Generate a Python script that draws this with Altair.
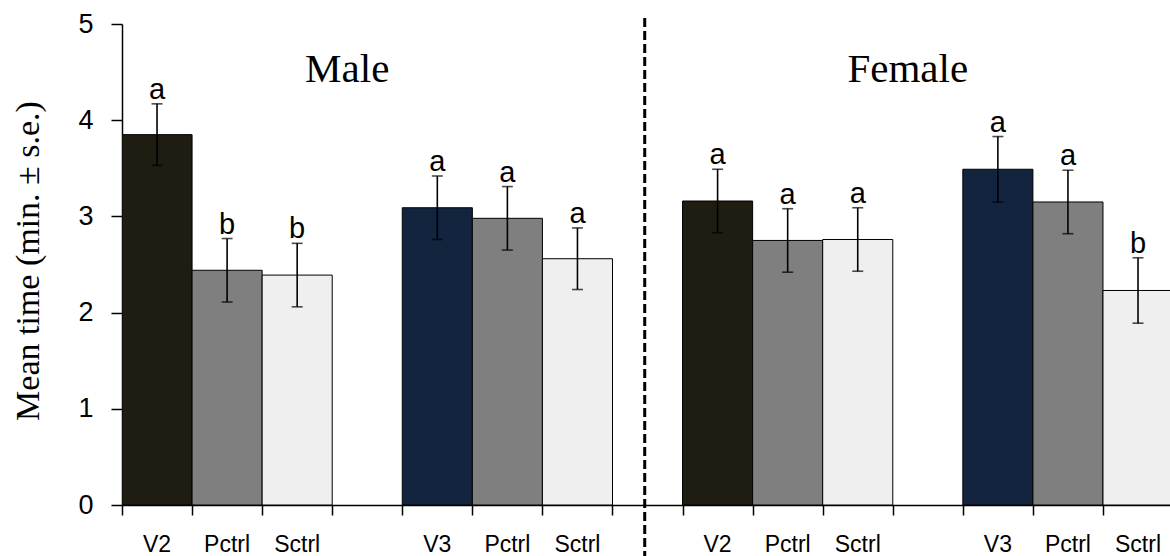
import altair as alt
import pandas as pd

# ---- data ----
sexes = ["Male"] * 6 + ["Female"] * 6
treatments = ["V2", "Pctrl", "Sctrl", "V3", "Pctrl", "Sctrl",
              "V2", "Pctrl", "Sctrl", "V3", "Pctrl", "Sctrl"]
color_keys = ["V2", "Pctrl", "Sctrl", "V3", "Pctrl", "Sctrl",
              "V2", "Pctrl", "Sctrl", "V3", "Pctrl", "Sctrl"]
means = [3.85, 2.44, 2.39, 3.09, 2.98, 2.56, 3.16, 2.75, 2.76, 3.49, 3.15, 2.23]
ses = [0.32, 0.33, 0.33, 0.33, 0.33, 0.32, 0.33, 0.33, 0.33, 0.34, 0.33, 0.34]
letters = ["a", "b", "b", "a", "a", "a", "a", "a", "a", "a", "a", "b"]
panel_titles = ["Male", "Female"]
y_ticks = [0, 1, 2, 3, 4, 5]

# slot layout: 3 bars, one empty slot, 3 bars, one empty slot, per sex
rows = []
for i in range(len(means)):
    sex_i = 0 if sexes[i] == "Male" else 1
    within = i % 6
    pair = within // 3
    k = within % 3
    slot = sex_i * 8 + pair * 4 + k
    rows.append(dict(sex=sexes[i], treat=treatments[i], key=color_keys[i],
                     mean=means[i], se=ses[i], lo=means[i] - ses[i],
                     hi=means[i] + ses[i], letter=letters[i],
                     x0=slot, x1=slot + 1, xc=slot + 0.5))
df = pd.DataFrame(rows)
titles_df = pd.DataFrame({"title": panel_titles, "xc": [3.5, 11.5], "y": [4.4, 4.4]})

W = 1048
H = 481
xmax = W / 70.07
xs = alt.Scale(domain=[0, xmax], nice=False, zero=False)
ys = alt.Scale(domain=[0, 5], nice=False)

color = alt.Color("key:N", legend=None,
                  scale=alt.Scale(domain=["V2", "Pctrl", "Sctrl", "V3"],
                                  range=["#1f1c12", "#7f7f7f", "#efefef", "#13243f"]))

base = alt.Chart(df)

bars = base.mark_bar(stroke="black", strokeWidth=1, clip=True).encode(
    x=alt.X("x0:Q", scale=xs,
            axis=alt.Axis(values=list(range(15)), labels=False, tickSize=10,
                          title=None, grid=False, domainWidth=1.5, tickWidth=1.5,
                          domainColor="black", tickColor="black")),
    x2="x1:Q",
    y=alt.Y("mean:Q", scale=ys,
            axis=alt.Axis(values=y_ticks, format="d", tickSize=11, labelPadding=18, grid=False,
                          title="Mean time (min. ± s.e.)", titleFont="Liberation Serif",
                          titleFontSize=34, titleFontWeight="normal", titleColor="black",
                          titleAngle=-90, titleX=-94, titleY=H / 2 - 4,
                          titleAlign="center", titleBaseline="middle",
                          labelFont="Liberation Sans", labelFontSize=27,
                          labelColor="black", domainWidth=1.5, tickWidth=1.5,
                          domainColor="black", tickColor="black")),
    y2=alt.Y2(datum=0),
    color=color,
)

err = base.mark_rule(color="black", strokeWidth=1.6).encode(
    x=alt.X("xc:Q", scale=xs), y=alt.Y("lo:Q", scale=ys), y2="hi:Q")

cap_hi = base.mark_tick(color="black", orient="horizontal", size=11, thickness=1.6).encode(
    x=alt.X("xc:Q", scale=xs), y=alt.Y("hi:Q", scale=ys))
cap_lo = base.mark_tick(color="black", orient="horizontal", size=11, thickness=1.6).encode(
    x=alt.X("xc:Q", scale=xs), y=alt.Y("lo:Q", scale=ys))

letter_txt = base.mark_text(font="Liberation Sans", fontSize=29, color="black",
                            baseline="alphabetic", align="center", dy=-5).encode(
    x=alt.X("xc:Q", scale=xs), y=alt.Y("hi:Q", scale=ys), text="letter:N")

xlab = base.mark_text(font="Liberation Sans", fontSize=23, color="black",
                      baseline="alphabetic", align="center", dy=47).encode(
    x=alt.X("xc:Q", scale=xs), y=alt.Y(datum=0, scale=ys), text="treat:N")

group_titles = alt.Chart(titles_df).mark_text(
    font="Liberation Serif", fontSize=41, color="black",
    baseline="alphabetic", align="center", dx=-20).encode(
    x=alt.X("xc:Q", scale=xs), y=alt.Y("y:Q", scale=ys), text="title:N")

divider = alt.Chart(pd.DataFrame({"x": [7.46]})).mark_rule(
    color="black", strokeWidth=3, strokeDash=[9, 4]).encode(
    x=alt.X("x:Q", scale=xs), y=alt.value(-6), y2=alt.value(H + 60))

chart = alt.layer(bars, err, cap_hi, cap_lo, letter_txt, xlab, group_titles, divider).properties(
    width=W, height=H,
    background="white",
    autosize=alt.AutoSizeParams(type="none"),
    padding={"left": 122, "top": 24, "right": 0, "bottom": 51},
).configure_view(stroke="transparent", strokeWidth=0).configure_axis(grid=False)

chart.save("out.html", embed_options={"renderer": "svg", "actions": False})
